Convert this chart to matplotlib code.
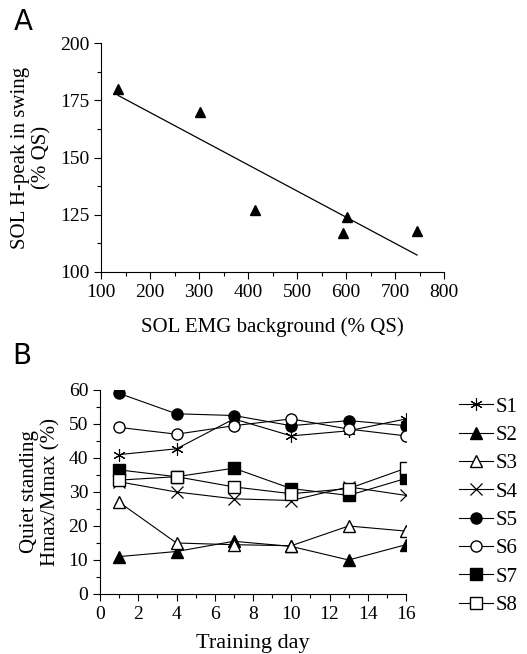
import matplotlib
matplotlib.use("Agg")
import matplotlib.pyplot as plt
import numpy as np
from matplotlib.ticker import MultipleLocator

plt.rcParams['font.family'] = ['Liberation Serif', 'DejaVu Serif']

# panel A: background EMG vs H-peak
emg_bg = [135, 303, 415, 593, 602, 745]
h_peak = [180, 170, 127, 117, 124, 118]

# panel B: Hmax/Mmax over training days
days = [1, 4, 7, 10, 13, 16]
s1 = [41, 42.7, 51.5, 46.5, 48, 51.5]
s2 = [11, 12.5, 15.5, 14, 10, 14.5]
s3 = [27, 15, 14.5, 14.2, 20, 18.5]
s4 = [33, 30, 28, 27.5, 31.5, 29]
s5 = [59, 53, 52.5, 49.5, 51, 49.5]
s6 = [49, 47, 49.5, 51.5, 48.5, 46.5]
s7 = [36.5, 34.5, 37, 31, 29, 34]
s8 = [33.5, 34.5, 31.5, 29.5, 31, 37]
subjects = ["S1", "S2", "S3", "S4", "S5", "S6", "S7", "S8"]

W, H = 527, 654
fig = plt.figure(figsize=(W / 100, H / 100), dpi=100)

def box(l, t, r, b):
    return [l / W, 1 - b / H, (r - l) / W, (b - t) / H]

def style(ax):
    for s in ("top", "right"):
        ax.spines[s].set_visible(False)
    ax.tick_params(which="both", direction="out", labelsize=14, width=0.8)
    ax.tick_params(which="major", length=5)
    ax.tick_params(which="minor", length=3)

# ---- A ----
ax1 = fig.add_axes(box(101, 43, 444, 272))
ax1.plot(emg_bg, h_peak, "k^", ms=7, ls="none", clip_on=False)
k, c = np.polyfit(emg_bg, h_peak, 1)
xx = np.array([min(emg_bg), max(emg_bg)])
ax1.plot(xx, k * xx + c, "k-", lw=0.9)
ax1.set_xlim(100, 800)
ax1.set_ylim(100, 200)
ax1.xaxis.set_major_locator(MultipleLocator(100))
ax1.xaxis.set_minor_locator(MultipleLocator(50))
ax1.yaxis.set_major_locator(MultipleLocator(25))
ax1.yaxis.set_minor_locator(MultipleLocator(12.5))
style(ax1)
ax1.set_xlabel("SOL EMG background (% QS)", fontsize=15, labelpad=12)
ax1.set_ylabel("SOL H-peak in swing\n(% QS)", fontsize=15, linespacing=1.15, labelpad=6)
fig.text(14 / W, 1 - 22 / H, "A", fontsize=20, family="DejaVu Sans", va="center")

# ---- B ----
ax2 = fig.add_axes(box(100, 390, 406, 594))
series = [s1, s2, s3, s4, s5, s6, s7, s8]
markers = [dict(marker=(6, 2, 0), ms=9, mfc="k", mew=0.8),
           dict(marker="^", ms=8, mfc="k"),
           dict(marker="^", ms=8, mfc="white"),
           dict(marker="x", ms=8, mew=0.9),
           dict(marker="o", ms=8, mfc="k"),
           dict(marker="o", ms=8, mfc="white"),
           dict(marker="s", ms=8, mfc="k"),
           dict(marker="s", ms=8, mfc="white")]
for name, vals, m in zip(subjects, series, markers):
    ax2.plot(days, vals, color="k", lw=0.8, mec="k", label=name, **m)
ax2.set_xlim(0, 16)
ax2.set_ylim(0, 60)
ax2.xaxis.set_major_locator(MultipleLocator(2))
ax2.xaxis.set_minor_locator(MultipleLocator(1))
ax2.yaxis.set_major_locator(MultipleLocator(10))
ax2.yaxis.set_minor_locator(MultipleLocator(5))
style(ax2)
ax2.set_xlabel("Training day", fontsize=16, labelpad=8)
ax2.set_ylabel("Quiet standing\nHmax/Mmax (%)", fontsize=15, linespacing=1.15, labelpad=6)
fig.text(12 / W, 1 - 356 / H, "B", fontsize=20, family="DejaVu Sans", va="center")

fig.legend(loc="upper left", bbox_to_anchor=(459 / W, 1 - 397 / H),
           frameon=False, fontsize=15, handlelength=1.65, handletextpad=0.1,
           labelspacing=0.42, borderaxespad=0, borderpad=0)

fig.savefig("out.png", dpi=100)
